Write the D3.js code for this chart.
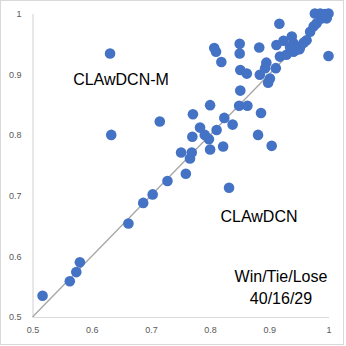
<!DOCTYPE html>
<html>
<head>
<meta charset="utf-8">
<script src="https://cdn.jsdelivr.net/npm/d3@7"></script>
<style>
    body { margin: 0; background: #fff; }
    svg { display: block; }
</style>
</head>
<body>
<div id="chart"></div>
<script>
// x = CLAwDCN, y = CLAwDCN-M
const xValues = [
    0.517, 0.563, 0.574, 0.580, 0.662, 0.687, 0.703, 0.728, 0.759, 0.751,
    0.766, 0.769, 0.770, 0.715, 0.771, 0.800, 0.783, 0.791, 0.798, 0.800,
    0.811, 0.824, 0.838, 0.822, 0.832, 0.849, 0.863, 0.886, 0.851, 0.881,
    0.904, 0.807, 0.810, 0.819, 0.850, 0.850, 0.883, 0.851, 0.862, 0.895,
    0.893, 0.884, 0.911, 0.901, 0.898, 0.912, 0.924, 0.938, 0.941, 0.952,
    0.963, 0.969, 0.975, 0.980, 0.989, 0.977, 0.986, 0.994, 1.000, 0.997,
    0.918, 0.929, 0.941, 0.951, 0.917, 1.000, 0.631, 0.633, 0.958, 0.945,
    0.935, 0.990
]
const yValues = [
    0.535, 0.559, 0.574, 0.590, 0.654, 0.688, 0.702, 0.724, 0.736, 0.771,
    0.761, 0.771, 0.797, 0.822, 0.834, 0.849, 0.812, 0.800, 0.793, 0.776,
    0.808, 0.828, 0.817, 0.781, 0.713, 0.848, 0.848, 0.836, 0.873, 0.800,
    0.782, 0.943, 0.937, 0.920, 0.950, 0.934, 0.944, 0.907, 0.901, 0.919,
    0.910, 0.899, 0.910, 0.893, 0.886, 0.948, 0.955, 0.962, 0.951, 0.945,
    0.956, 0.970, 0.979, 0.984, 0.992, 1.000, 1.000, 0.999, 1.000, 0.992,
    0.929, 0.932, 0.937, 0.941, 0.983, 0.930, 0.934, 0.800, 0.952, 0.940,
    0.945, 0.998
]
const tickValues = [0.5, 0.6, 0.7, 0.8, 0.9, 1]
const diagonal = [0.5, 1]
const labels = ["CLAwDCN-M", "CLAwDCN", "Win/Tie/Lose", "40/16/29"]

const dataset = xValues.map((x, i) => ({ x: x, y: yValues[i] }))

let dimensions = {
    width: 346,
    height: 346,
    margin: {
        top: 13.5,
        right: 17.5,
        bottom: 29,
        left: 32.5,
    },
}
dimensions.boundedWidth = dimensions.width - dimensions.margin.left - dimensions.margin.right
dimensions.boundedHeight = dimensions.height - dimensions.margin.top - dimensions.margin.bottom

const wrapper = d3.select("#chart").append("svg")
    .attr("width", dimensions.width)
    .attr("height", dimensions.height)
    .style("font-family", "'Liberation Sans', Arial, sans-serif")

// chart area border
wrapper.append("rect")
    .attr("x", 0.5)
    .attr("y", 0.5)
    .attr("width", 343)
    .attr("height", 344)
    .attr("fill", "none")
    .attr("stroke", "#d9d9d9")

const bounds = wrapper.append("g")
    .attr("transform", `translate(${dimensions.margin.left}, ${dimensions.margin.top})`)

const xScale = d3.scaleLinear()
    .domain([0.5, 1])
    .range([0, dimensions.boundedWidth])

const yScale = d3.scaleLinear()
    .domain([0.5, 1])
    .range([dimensions.boundedHeight, 0])

// axes
const xAxis = bounds.append("g")
    .attr("transform", `translate(0, ${dimensions.boundedHeight})`)
    .call(d3.axisBottom(xScale).tickValues(tickValues).tickSize(0).tickPadding(10).tickFormat(d3.format("")))
const yAxis = bounds.append("g")
    .call(d3.axisLeft(yScale).tickValues(tickValues).tickSize(0).tickPadding(11).tickFormat(d3.format("")))

;[xAxis, yAxis].forEach(axis => {
    axis.select(".domain").attr("stroke", "#d9d9d9").attr("stroke-width", 1.2)
    axis.selectAll("text")
        .attr("fill", "#595959")
        .style("font-size", "9px")
        .style("font-family", "'Liberation Sans', Arial, sans-serif")
})

// y = x reference line
const lineGenerator = d3.line()
    .x(d => xScale(d))
    .y(d => yScale(d))

bounds.append("path")
    .attr("d", lineGenerator(diagonal))
    .attr("fill", "none")
    .attr("stroke", "#a6a6a6")
    .attr("stroke-width", 1.3)

// points
bounds.append("g")
    .selectAll("circle")
    .data(dataset)
    .enter().append("circle")
    .attr("cx", d => xScale(d.x))
    .attr("cy", d => yScale(d.y))
    .attr("r", 5.3)
    .attr("fill", "#4472c4")

// annotations
const notes = wrapper.append("g")
    .attr("fill", "#000")
    .style("font-size", "16px")

notes.append("text").attr("x", 121).attr("y", 85).attr("text-anchor", "middle").text(labels[0])
notes.append("text").attr("x", 259).attr("y", 222).attr("text-anchor", "middle").text(labels[1])
notes.append("text").attr("x", 281).attr("y", 282).attr("text-anchor", "middle").text(labels[2])
notes.append("text").attr("x", 281).attr("y", 304).attr("text-anchor", "middle").text(labels[3])
</script>
</body>
</html>
